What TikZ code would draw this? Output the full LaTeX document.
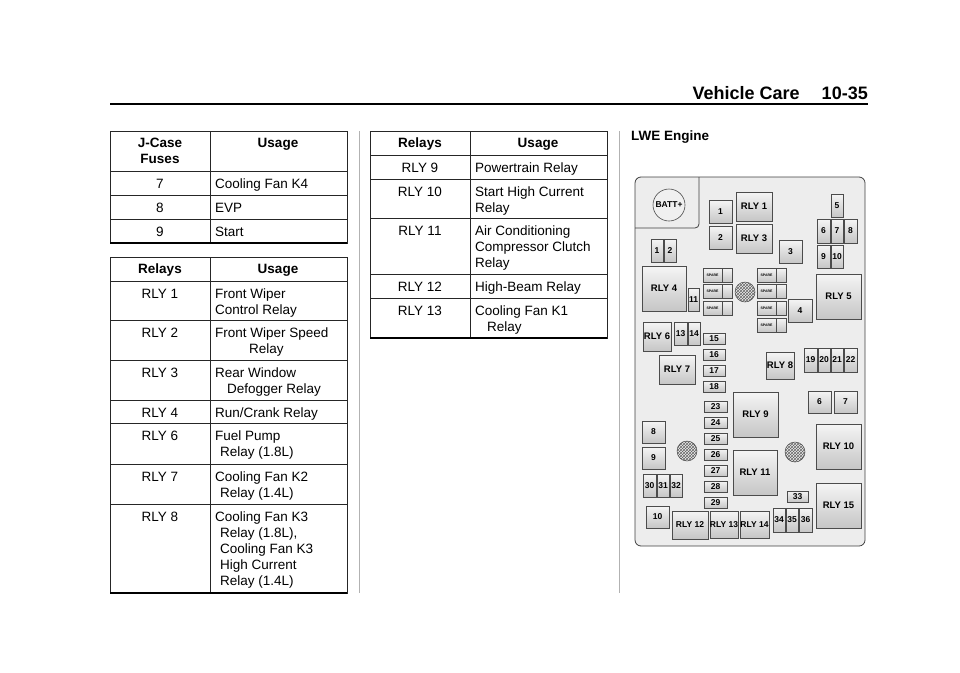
\documentclass[tikz,border=0pt]{standalone}
\usepackage{fontspec}
\setmainfont{Liberation Sans}
\newcounter{bxc}
\tikzset{
  cell/.style={anchor=north,inner sep=0pt,yshift=-3pt,font=\fontsize{13.5}{16}\selectfont,align=center},
  lcell/.style={anchor=north west,inner sep=0pt,yshift=-3pt,font=\fontsize{13.5}{16}\selectfont,align=left},
  hcell/.style={anchor=north,inner sep=0pt,yshift=-2pt,font=\fontsize{13.5}{16}\selectfont\bfseries,align=center},
  fbox/.style={draw=black!70,line width=0.6pt,top color=gray!8,bottom color=gray!45},
  flab/.style={font=\fontsize{8.5}{9}\selectfont\bfseries,inner sep=0pt},
  rlab/.style={font=\fontsize{9.5}{10}\selectfont\bfseries,inner sep=0pt},
  slab/.style={font=\fontsize{3.5}{4}\selectfont\bfseries,inner sep=0pt},
  grid/.style={line width=0.8pt,black!85},
  mesh/.style={draw=black!70,line width=0.5pt,pattern=crosshatch,pattern color=black!60}
}
\usetikzlibrary{patterns}
\newcommand{\bx}[6][flab]{\stepcounter{bxc}%
  \draw[fbox] (#2,#3) rectangle (#4,#5);
  \node[#1] (b\thebxc) at ({(#2+#4)/2},{(#3+#5)/2}) {#6};}
\newcommand{\spare}[2]{\stepcounter{bxc}%
  \draw[fbox] (#1,#2) rectangle (#1+29,#2+14);
  \draw[black!70,line width=0.5pt] (#1+19,#2) -- (#1+19,#2+14);
  \node[slab] (s\thebxc) at (#1+9.5,#2+7) {SPARE};}
\begin{document}
\begin{tikzpicture}[x=1pt,y=-1pt]
\useasboundingbox (0,0) rectangle (960,672);
% header
\node[anchor=south east,inner sep=0pt,font=\fontsize{18}{20}\selectfont\bfseries] (hdr) at (868,100) {Vehicle Care\hspace{22pt}10-35};
\draw[line width=2.6pt] (110,104) -- (868,104);
% separators
\draw[gray!60,line width=0.8pt] (359,131) -- (359,593);
\draw[gray!60,line width=0.8pt] (619,131) -- (619,593);
% ---- table 1
\draw[grid] (110,131) rectangle (347,243);
\draw[grid] (210,131) -- (210,243);
\foreach \y in {171,195,219} \draw[grid] (110,\y) -- (347,\y);
\draw[line width=1.8pt] (110,243) -- (347,243);
\node[hcell] (t1h1) at (160,136) {J-Case\\Fuses};
\node[hcell] (t1h2) at (278,136) {Usage};
\node[cell] (t1a) at (160,176) {7}; \node[lcell] (t1b) at (215,176) {Cooling Fan K4};
\node[cell] (t1c) at (160,200) {8}; \node[lcell] (t1d) at (215,200) {EVP};
\node[cell] (t1e) at (160,224) {9}; \node[lcell] (t1f) at (215,224) {Start};
% ---- table 2
\draw[grid] (110,257) rectangle (347,593);
\draw[grid] (210,257) -- (210,593);
\foreach \y in {281,320,360,400,423,464,504} \draw[grid] (110,\y) -- (347,\y);
\draw[line width=1.8pt] (110,593) -- (347,593);
\node[hcell] (t2h1) at (160,262) {Relays};
\node[hcell] (t2h2) at (278,262) {Usage};
\node[cell] (r1) at (160,286) {RLY 1}; \node[lcell] (u1) at (215,286) {Front Wiper\\Control Relay};
\node[cell] (r2) at (160,325) {RLY 2}; \node[lcell] (u2) at (215,325) {Front Wiper Speed\\\hspace*{34pt}Relay};
\node[cell] (r3) at (160,365) {RLY 3}; \node[lcell] (u3) at (215,365) {Rear Window\\\hspace*{12pt}Defogger Relay};
\node[cell] (r4) at (160,405) {RLY 4}; \node[lcell] (u4) at (215,405) {Run/Crank Relay};
\node[cell] (r6) at (160,428) {RLY 6}; \node[lcell] (u6) at (215,428) {Fuel Pump\\\hspace*{5pt}Relay (1.8L)};
\node[cell] (r7) at (160,469) {RLY 7}; \node[lcell] (u7) at (215,469) {Cooling Fan K2\\\hspace*{5pt}Relay (1.4L)};
\node[cell] (r8) at (160,509) {RLY 8}; \node[lcell] (u8) at (215,509) {Cooling Fan K3\\\hspace*{5pt}Relay (1.8L),\\\hspace*{5pt}Cooling Fan K3\\\hspace*{5pt}High Current\\\hspace*{5pt}Relay (1.4L)};
% ---- table 3
\draw[grid] (370,131) rectangle (607,338);
\draw[grid] (470,131) -- (470,338);
\foreach \y in {155,179,218,274,298} \draw[grid] (370,\y) -- (607,\y);
\draw[line width=1.8pt] (370,338) -- (607,338);
\node[hcell] (t3h1) at (420,136) {Relays};
\node[hcell] (t3h2) at (538,136) {Usage};
\node[cell] (r9) at (420,160) {RLY 9}; \node[lcell] (u9) at (475,160) {Powertrain Relay};
\node[cell] (r10) at (420,184) {RLY 10}; \node[lcell] (u10) at (475,184) {Start High Current\\Relay};
\node[cell] (r11) at (420,223) {RLY 11}; \node[lcell] (u11) at (475,223) {Air Conditioning\\Compressor Clutch\\Relay};
\node[cell] (r12) at (420,279) {RLY 12}; \node[lcell] (u12) at (475,279) {High-Beam Relay};
\node[cell] (r13) at (420,303) {RLY 13}; \node[lcell] (u13) at (475,303) {Cooling Fan K1\\\hspace*{12pt}Relay};
% ---- LWE engine
\node[anchor=north west,inner sep=0pt,font=\fontsize{13.5}{16}\selectfont\bfseries] (lwe) at (631,131) {LWE Engine};
\draw[draw=black!75,line width=0.8pt,fill=gray!14,rounded corners=6pt] (635,177) rectangle (865,546);
\draw[black!75,line width=0.8pt,rounded corners=4pt] (699,177) -- (699,228) -- (635,228);
\draw[black!70,line width=0.6pt,fill=gray!12] (669,205) circle (16);
\node[flab] (batt) at (669,205) {BATT+};
\bx{709}{200}{732}{223}{1}
\bx{709}{226}{732}{249}{2}
\bx[rlab]{736}{192}{772}{221}{RLY 1}
\bx[rlab]{736}{224}{772}{253}{RLY 3}
\bx{779}{240}{802}{263}{3}
\bx{831}{194}{843}{217}{5}
\bx{817}{219}{830}{243}{6}
\bx{831}{219}{843}{243}{7}
\bx{844}{219}{857}{243}{8}
\bx{817}{245}{830}{268}{9}
\bx{831}{245}{843}{268}{10}
\bx{651}{239}{663}{262}{1}
\bx{664}{239}{676}{262}{2}
\bx[rlab]{642}{266}{686}{311}{RLY 4}
\bx{688}{288}{699}{311}{11}
\spare{703}{268}\spare{703}{284}\spare{703}{301}
\spare{757}{268}\spare{757}{284}\spare{757}{301}\spare{757}{318}
\draw[mesh] (745,292) circle (10);
\bx{788}{299}{812}{322}{4}
\bx[rlab]{816}{274}{861}{319}{RLY 5}
\bx[rlab]{643}{322}{671}{351}{RLY 6}
\bx{674}{322}{687}{345}{13}
\bx{688}{322}{700}{345}{14}
\bx{703}{333}{725}{344}{15}
\bx{703}{349}{725}{360}{16}
\bx{703}{365}{725}{376}{17}
\bx{703}{381}{725}{392}{18}
\bx[rlab]{659}{355}{695}{384}{RLY 7}
\bx[rlab]{766}{352}{794}{379}{RLY 8}
\bx{804}{348}{817}{372}{19}
\bx{818}{348}{830}{372}{20}
\bx{831}{348}{843}{372}{21}
\bx{844}{348}{857}{372}{22}
\bx{808}{391}{831}{413}{6}
\bx{834}{391}{857}{413}{7}
\bx{704}{401}{727}{412}{23}
\bx{704}{417}{727}{428}{24}
\bx{704}{433}{727}{444}{25}
\bx{704}{449}{727}{460}{26}
\bx{704}{465}{727}{476}{27}
\bx{704}{481}{727}{492}{28}
\bx{704}{497}{727}{508}{29}
\bx[rlab]{733}{392}{778}{437}{RLY 9}
\bx[rlab]{733}{450}{777}{495}{RLY 11}
\bx{642}{421}{665}{443}{8}
\bx{642}{447}{665}{469}{9}
\draw[mesh] (687,451) circle (10);
\draw[mesh] (795,452) circle (10);
\bx[rlab]{816}{424}{861}{469}{RLY 10}
\bx[rlab]{816}{483}{861}{528}{RLY 15}
\bx{643}{474}{656}{497}{30}
\bx{657}{474}{669}{497}{31}
\bx{670}{474}{682}{497}{32}
\bx{787}{491}{808}{502}{33}
\bx{773}{508}{785}{532}{34}
\bx{786}{508}{798}{532}{35}
\bx{799}{508}{812}{532}{36}
\bx{646}{506}{669}{528}{10}
\bx[flab]{672}{511}{708}{539}{RLY 12}
\bx[flab]{710}{511}{738}{538}{RLY 13}
\bx[flab]{740}{511}{769}{538}{RLY 14}
\end{tikzpicture}
\end{document}
